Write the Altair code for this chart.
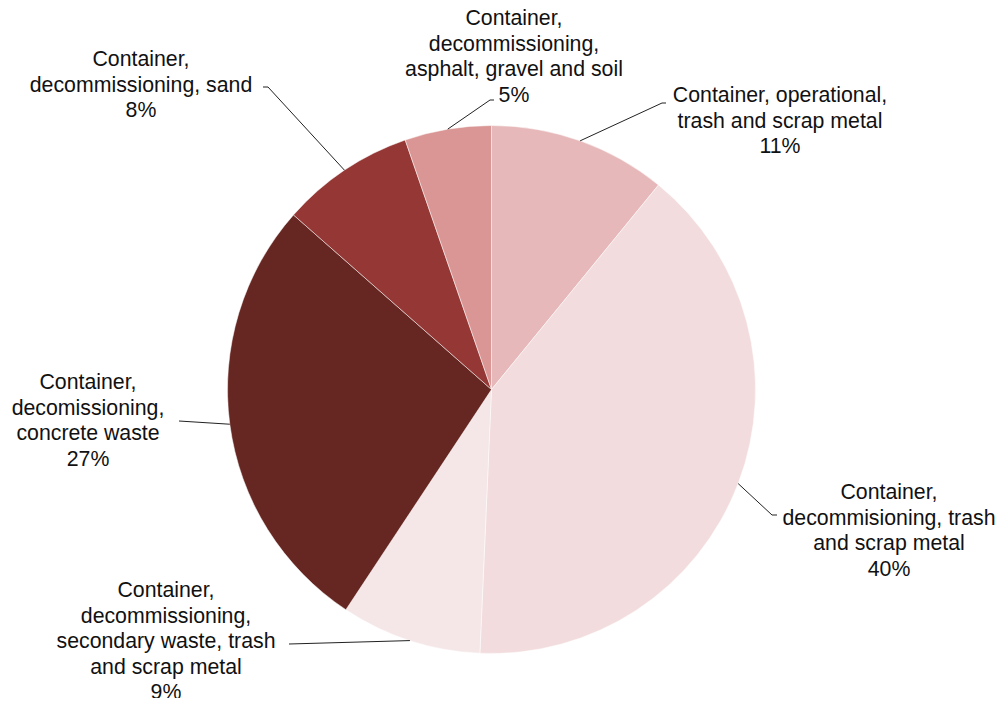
import math
import altair as alt
import pandas as pd

# ---- data ----
categories = [
    "Container, operational,\ntrash and scrap metal",
    "Container,\ndecommisioning, trash\nand scrap metal",
    "Container,\ndecommissioning,\nsecondary waste, trash\nand scrap metal",
    "Container,\ndecomissioning,\nconcrete waste",
    "Container,\ndecommissioning, sand",
    "Container,\ndecommissioning,\nasphalt, gravel and soil",
]
shares = [10.9, 39.8, 8.6, 27.2, 8.2, 5.3]
colors = ["#e6b8b9", "#f2dcdd", "#f5e7e8", "#662621", "#953735", "#d99694"]

# ---- layout (chart pixel coords, page offset 8px removed) ----
W, H = 987, 690
CX, CY, R = 483.5, 381.5, 264
# (center x, first-line y) of each label
label_pos = [(772, 88), (881, 485), (158, 583), (80, 375), (133, 52), (506, 11)]
leader_bends = [
    [(654, 95), (658, 95)],
    [(764, 507), (769, 507)],
    [(281, 636)],
    [(171, 413)],
    [(260, 79), (255, 79)],
    [(482, 92), (486, 92)],
]

total = sum(shares)
pie_df = pd.DataFrame({
    "cat": categories,
    "value": shares,
    "idx": list(range(len(shares))),
})

# leader lines start at slice mid-angle on the rim
rows = []
cum = 0.0
for i, v in enumerate(shares):
    mid = (cum + v / 2) / total * 2 * math.pi
    cum += v
    pts = [(CX + R * math.sin(mid), CY - R * math.cos(mid))] + leader_bends[i]
    for j, (px, py) in enumerate(pts):
        rows.append({"slice": i, "pt": j, "x": px, "y": py})
line_df = pd.DataFrame(rows)

label_df = pd.DataFrame({
    "text": [f"{c}\n{round(v / total * 100)}%" for c, v in zip(categories, shares)],
    "x": [p[0] for p in label_pos],
    "y": [p[1] for p in label_pos],
})

xs = alt.Scale(domain=[0, W], nice=False, zero=False)
ys = alt.Scale(domain=[0, H], nice=False, zero=False, reverse=True)

pie = alt.Chart(pie_df).mark_arc(stroke="white", strokeWidth=0.5).encode(
    theta=alt.Theta("value:Q", stack=True),
    color=alt.Color("cat:N", scale=alt.Scale(domain=categories, range=colors), legend=None),
    order=alt.Order("idx:Q"),
    x=alt.value(CX),
    y=alt.value(CY),
    radius=alt.value(R),
)

leaders = alt.Chart(line_df).mark_line(color="#222222", strokeWidth=1).encode(
    x=alt.X("x:Q", scale=xs, axis=None),
    y=alt.Y("y:Q", scale=ys, axis=None),
    detail="slice:N",
    order="pt:Q",
)

labels = alt.Chart(label_df).mark_text(
    font="Liberation Sans", fontSize=21.3, lineHeight=25.6, lineBreak="\n",
    align="center", baseline="middle", color="#111111",
).encode(
    x=alt.X("x:Q", scale=xs, axis=None),
    y=alt.Y("y:Q", scale=ys, axis=None),
    text="text:N",
)

chart = alt.layer(pie, leaders, labels).properties(
    width=W, height=H, padding=0, autosize=alt.AutoSizeParams(type="none")
).configure_view(stroke=None)

chart.save("out.html", embed_options={"renderer": "svg", "actions": False})
